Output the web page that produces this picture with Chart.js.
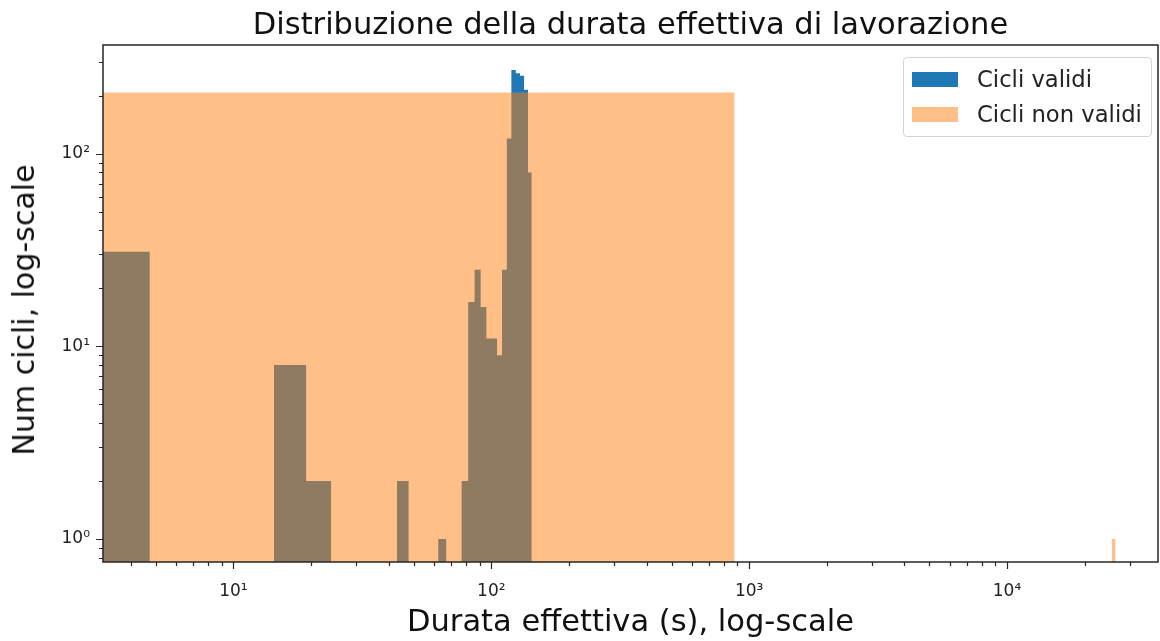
<!DOCTYPE html>
<html>
<head>
<meta charset="utf-8">
<script src="https://cdn.jsdelivr.net/npm/chart.js@4.4.0/dist/chart.umd.min.js"></script>
<style>
  body { margin: 0; background: #fff; }
  #wrap { position: relative; width: 1160px; height: 641px; }
  .legend {
    position: absolute; left: 903px; top: 57px; width: 249px; height: 80px;
    box-sizing: border-box; border: 1px solid #d4d4d4; border-radius: 4px;
    background: rgba(255, 255, 255, 0.8);
    font-family: 'DejaVu Sans', sans-serif; font-size: 22.7px; color: #222;
  }
  .legend .row { position: absolute; left: 8px; height: 24px; display: flex; align-items: center; white-space: nowrap; }
  .legend .sw { width: 46px; height: 15px; margin-right: 19px; }
  #ylab {
    position: absolute; left: 24px; top: 310px;
    transform: translate(-50%, -50%) rotate(-90deg);
    white-space: nowrap; line-height: 1;
    font-family: 'DejaVu Sans', sans-serif; font-size: 30px; color: #111;
  }
</style>
</head>
<body>
<div id="wrap">
  <canvas id="chart" width="1160" height="641"></canvas>
  <div id="ylab">Num cicli, log-scale</div>
  <div class="legend">
    <div class="row" style="top: 9px"><span class="sw" style="background: #1f77b4"></span>Cicli validi</div>
    <div class="row" style="top: 44px"><span class="sw" style="background: #ffbf86"></span>Cicli non validi</div>
  </div>
</div>
<script>
// istogramma durata effettiva (bin lineari, assi log-log)

const validEdges = [0, 4.74, 9.57, 14.36, 19.14, 23.93, 28.71, 33.5, 38.28, 43.07, 47.85,
  52.64, 57.42, 62.21, 66.99, 71.78, 76.56, 81.35, 86.13, 90.92, 95.7,
  100.49, 105.27, 110.06, 114.84, 119.63, 124.41, 129.2, 133.98, 138.77, 143.55];
const validCounts = [31, 0, 0, 8, 2, 0, 0, 0, 0, 2, 0, 0, 0, 1, 0, 0, 2, 17, 25, 16,
  11, 11, 9, 25, 120, 272, 262, 254, 215, 80];

const invalidEdges = [0, 878, 1756, 2634, 3512, 4390, 5268, 6146, 7024, 7902, 8780,
  9658, 10536, 11414, 12292, 13170, 14048, 14926, 15804, 16682, 17560,
  18438, 19316, 20194, 21072, 21950, 22828, 23706, 24584, 25462, 26340];
const invalidCounts = [208, 0, 0, 0, 0, 0, 0, 0, 0, 0, 0, 0, 0, 0, 0, 0, 0, 0, 0, 0,
  0, 0, 0, 0, 0, 0, 0, 0, 0, 1];

const xTickValues = [10, 100, 1000, 10000];
const xTickLabels = ['10¹', '10²', '10³', '10⁴'];
const yTickValues = [1, 10, 100];
const yTickLabels = ['10⁰', '10¹', '10²'];

const xRange = [3.12, 38500];
const yRange = [0.76, 367];

// punti a gradini: un tratto per bin, interruzione sui bin vuoti
function histPoints(edges, counts) {
  const pts = [];
  counts.forEach((c, i) => {
    if (c > 0) {
      pts.push({ x: edges[i], y: c }, { x: edges[i + 1], y: c });
    } else if (pts.length && pts[pts.length - 1].y !== null) {
      pts.push({ x: edges[i], y: null });
    }
  });
  return pts;
}

// tacche maggiori (1) e minori (2..9) per ogni decade
function logTicks(scale) {
  const ticks = [];
  const e0 = Math.floor(Math.log10(scale.min));
  const e1 = Math.ceil(Math.log10(scale.max));
  for (let e = e0; e <= e1; e++) {
    for (let m = 1; m <= 9; m++) {
      const v = m * Math.pow(10, e);
      if (v >= scale.min && v <= scale.max) ticks.push({ value: v, major: m === 1 });
    }
  }
  scale.ticks = ticks;
}

const frame = {
  id: 'frame',
  afterDraw(chart) {
    const { ctx, chartArea: a, scales } = chart;
    ctx.save();
    ctx.strokeStyle = '#262626';
    ctx.lineWidth = 1.2;
    ctx.beginPath();
    scales.x.ticks.forEach(t => {
      const px = Math.round(scales.x.getPixelForValue(t.value)) + 0.5;
      ctx.moveTo(px, a.bottom);
      ctx.lineTo(px, a.bottom + (t.major ? 7 : 4));
    });
    scales.y.ticks.forEach(t => {
      const py = Math.round(scales.y.getPixelForValue(t.value)) + 0.5;
      ctx.moveTo(a.left, py);
      ctx.lineTo(a.left - (t.major ? 7 : 4), py);
    });
    ctx.stroke();
    ctx.lineWidth = 1.5;
    ctx.strokeRect(a.left, a.top, a.right - a.left, a.bottom - a.top);
    ctx.restore();
  },
};

const font = 'DejaVu Sans';

new Chart(document.getElementById('chart'), {
  type: 'line',
  data: {
    datasets: [
      {
        label: 'Cicli validi',
        data: histPoints(validEdges, validCounts),
        backgroundColor: '#1f77b4',
        borderWidth: 0,
        pointRadius: 0,
        fill: 'start',
        order: 2,
      },
      {
        label: 'Cicli non validi',
        data: histPoints(invalidEdges, invalidCounts),
        backgroundColor: 'rgba(255, 127, 14, 0.5)',
        borderWidth: 0,
        pointRadius: 0,
        fill: 'start',
        order: 1,
      },
    ],
  },
  options: {
    responsive: false,
    animation: false,
    layout: { padding: { left: 0, right: 2, top: 0, bottom: 0 } },
    plugins: {
      legend: { display: false },
      tooltip: { enabled: false },
      title: {
        display: true,
        fullSize: false,
        text: 'Distribuzione della durata effettiva di lavorazione',
        color: '#111',
        font: { family: font, size: 30.5, weight: 'normal', lineHeight: 1.2 },
        padding: { top: 8, bottom: 0.4 },
      },
    },
    scales: {
      x: {
        type: 'logarithmic',
        min: xRange[0],
        max: xRange[1],
        afterBuildTicks: logTicks,
        afterFit: s => { s.height = 79; },
        grid: { display: false, drawTicks: false },
        border: { display: false },
        ticks: {
          autoSkip: false,
          maxRotation: 0,
          padding: 19,
          color: '#222',
          font: { family: font, size: 17 },
          callback: v => {
            const i = xTickValues.indexOf(v);
            return i >= 0 ? xTickLabels[i] : '';
          },
        },
        title: {
          display: true,
          text: 'Durata effettiva (s), log-scale',
          color: '#111',
          font: { family: font, size: 30.5 },
          padding: { top: 0, bottom: 0 },
        },
      },
      y: {
        type: 'logarithmic',
        min: yRange[0],
        max: yRange[1],
        afterBuildTicks: logTicks,
        afterFit: s => { s.width = 103; },
        grid: { display: false, drawTicks: false },
        border: { display: false },
        ticks: {
          autoSkip: false,
          padding: 13,
          color: '#222',
          font: { family: font, size: 17 },
          callback: v => {
            const i = yTickValues.indexOf(v);
            return i >= 0 ? yTickLabels[i] : '';
          },
        },
      },
    },
  },
  plugins: [frame],
});
</script>
</body>
</html>
